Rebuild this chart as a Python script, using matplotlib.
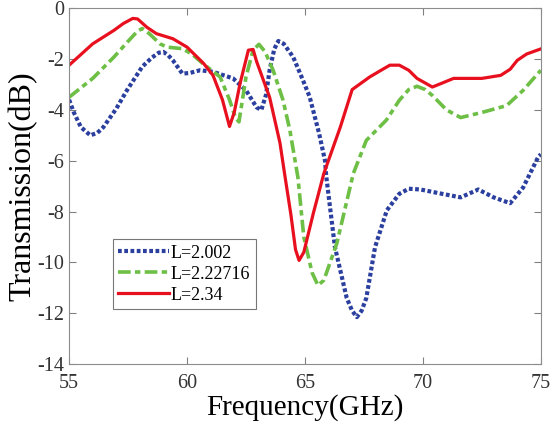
import matplotlib
matplotlib.use('Agg')
from matplotlib import pyplot as plt

# L=2.002 (blue dotted)
f_a = [55, 55.2, 55.5, 55.9, 56.2, 56.45, 57.0, 57.45, 58.1, 58.5, 58.8, 59.0, 59.2, 59.4, 59.8,
       60.1, 60.55, 61.1, 61.95, 62.5, 62.95, 63.15, 63.35, 63.5, 63.7, 63.87, 64.1, 64.5, 64.9,
       65.2, 65.6, 65.85, 65.9, 66.27, 66.77, 67.0, 67.2, 67.4, 67.6, 67.97, 68.47, 69.0, 69.4,
       69.9, 70.7, 71.6, 72.35, 73.0, 73.7, 74.25, 74.9, 75]
t_a = [-3.6, -4.1, -4.68, -5.0, -4.9, -4.68, -3.95, -3.23, -2.3, -1.95, -1.75, -1.72, -1.85,
       -2.05, -2.57, -2.55, -2.44, -2.5, -2.76, -3.23, -3.9, -4.0, -3.4, -2.44, -1.6, -1.29,
       -1.4, -1.92, -2.8, -3.49, -4.93, -6.0, -6.6, -9.4, -11.4, -11.9, -12.15, -11.9, -11.4,
       -9.4, -7.95, -7.3, -7.1, -7.13, -7.28, -7.44, -7.13, -7.44, -7.67, -7.05, -5.83, -5.75]

# L=2.22716 (green dash-dot)
f_b = [55, 56.0, 56.9, 57.5, 57.9, 58.1, 58.4, 58.85, 59.15, 59.8, 60.2, 60.7, 61.4, 61.8,
       62.05, 62.2, 62.35, 62.5, 62.8, 63.05, 63.3, 63.65, 64.07, 64.36, 64.7, 64.95, 65.3,
       65.55, 65.8, 66.35, 67.05, 67.6, 68.45, 69.0, 69.4, 69.75, 70.1, 70.4, 71.0, 71.6,
       72.5, 73.55, 74.25, 75]
t_b = [-3.5, -2.76, -1.92, -1.3, -0.9, -0.8, -1.0, -1.4, -1.53, -1.59, -1.8, -2.2, -2.7, -3.6,
       -4.3, -4.47, -3.6, -2.7, -1.65, -1.42, -1.7, -2.44, -3.62, -4.8, -6.65, -9.0, -10.4,
       -10.9, -10.7, -9.25, -6.5, -5.2, -4.4, -3.62, -3.2, -3.07, -3.2, -3.43, -4.0, -4.3,
       -4.1, -3.83, -3.23, -2.44]

# L=2.34 (red solid)
f_c = [55, 56.0, 56.9, 57.3, 57.7, 57.9, 58.3, 58.7, 59.4, 60.0, 60.7, 61.1, 61.5, 61.8,
       62.0, 62.25, 62.6, 62.8, 62.95, 63.5, 63.94, 64.15, 64.4, 64.6, 64.75, 64.95, 65.35,
       65.8, 66.5, 67.0, 67.75, 68.3, 68.6, 69.0, 69.4, 69.75, 70.4, 70.8, 71.3, 72.5, 73.3,
       73.7, 74.0, 74.4, 75]
t_c = [-2.24, -1.4, -0.87, -0.6, -0.4, -0.42, -0.75, -1.0, -1.2, -1.53, -2.17, -2.64, -3.6,
       -4.65, -4.1, -2.95, -1.65, -1.62, -2.1, -3.5, -5.3, -6.6, -8.1, -9.5, -9.92, -9.6, -8.08,
       -6.5, -4.67, -3.2, -2.7, -2.4, -2.24, -2.24, -2.44, -2.76, -3.1, -2.95, -2.76, -2.76,
       -2.64, -2.4, -2.05, -1.8, -1.6]

plt.rcParams['font.family'] = 'Liberation Serif'
plt.rcParams['axes.unicode_minus'] = False

fig = plt.figure(figsize=(5.53, 4.33), dpi=100)
ax = fig.add_axes([0.125, 0.159, 0.853, 0.822])

ax.plot(f_a, t_a, color='#2b3f9e', lw=3.0, linestyle=(0, (0.9, 0.6)), label='L=2.002')
ax.plot(f_b, t_b, color='#6dbf45', lw=2.6, linestyle=(0, (3.5, 1.2, 1.5, 1.2)), label='L=2.22716')
ax.plot(f_c, t_c, color='#e8101e', lw=2.3, label='L=2.34')

ax.set_xlim(55, 75)
ax.set_ylim(-14, 0)
ax.set_xticks([55, 60, 65, 70, 75])
ax.set_yticks(range(-14, 1, 2))
ax.tick_params(direction='in', top=True, right=True, labelsize=14.5, colors='#808080',
               labelcolor='#333333', length=5)
ax.tick_params(axis='x', pad=7)
for s in ax.spines.values():
    s.set_color('#8c8c8c')

ax.set_xlabel('Frequency(GHz)', fontsize=21, labelpad=1)
ax.set_ylabel('Transmission(dB)', fontsize=23, labelpad=0)

leg = ax.legend(loc='lower left', bbox_to_anchor=(0.093, 0.155), fontsize=13, handlelength=2.8,
                handletextpad=0.1, borderpad=0.3, labelspacing=0.22, fancybox=False,
                borderaxespad=0)
leg.get_frame().set_edgecolor('#555555')
leg.get_frame().set_linewidth(0.8)

fig.savefig('out.png', dpi=100)
